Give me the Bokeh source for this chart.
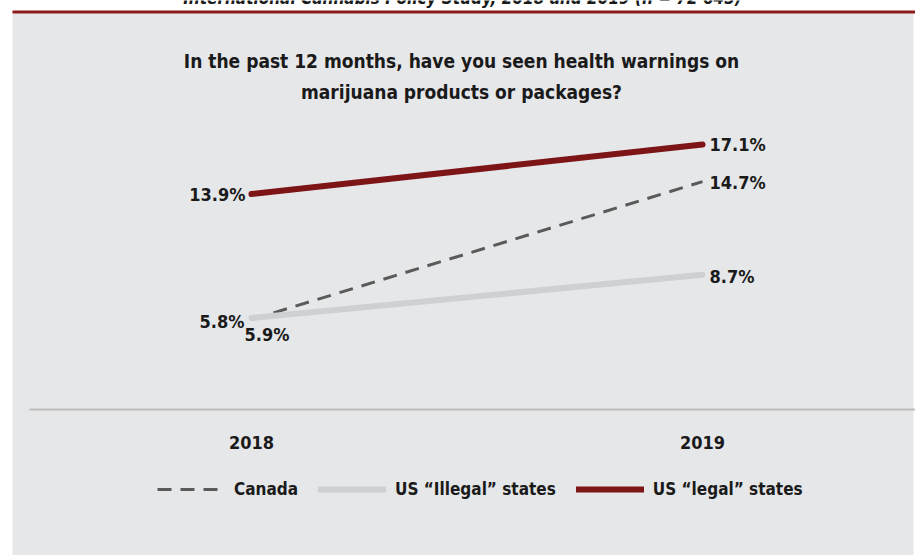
from bokeh.plotting import figure
from bokeh.models import Range1d, Legend, LegendItem
from bokeh.core.properties import value
from bokeh.embed import file_html
from bokeh.resources import INLINE

# ---- data ----
years = [2018, 2019]
canada = [5.8, 14.7]
us_illegal = [5.9, 8.7]
us_legal = [13.9, 17.1]
year_labels = ["2018", "2019"]
series_names = ["Canada", "US \u201cIllegal\u201d states", "US \u201clegal\u201d states"]
title_lines = ["In the past 12 months, have you seen health warnings on",
               "marijuana products or packages?"]
top_caption = "International Cannabis Policy Study, 2018 and 2019 (n = 72 645)"

W, H = 915, 555
FONT = "DejaVu Sans Condensed"

# pixel geometry of the frame (whole canvas)
X0_PX, X1_PX = 251, 702          # where 2018 / 2019 sit
Y0_PX, Y_SCALE = 409, 15.5       # y=0 baseline and px per percentage point

px_per_year = (X1_PX - X0_PX) / (years[1] - years[0])
x_start = years[0] - X0_PX / px_per_year
x_end = years[0] + (W - X0_PX) / px_per_year
y_start = -(H - Y0_PX) / Y_SCALE
y_end = Y0_PX / Y_SCALE

def px_x(px):
    return x_start + px / px_per_year

def px_y(py):
    return (Y0_PX - py) / Y_SCALE

p = figure(width=W, height=H, output_backend="svg", toolbar_location=None,
           x_axis_type=None, y_axis_type=None,
           x_range=Range1d(x_start, x_end), y_range=Range1d(y_start, y_end),
           min_border=0, min_border_left=0, min_border_right=0,
           min_border_top=0, min_border_bottom=0)
p.outline_line_color = None
p.background_fill_color = "white"
p.border_fill_color = "white"
p.grid.visible = False

# panel and top rule (decoration)
p.quad(left=[px_x(12)], right=[px_x(913)], top=[px_y(13)], bottom=[px_y(H + 5)],
       fill_color="#E6E7E9", line_color=None)
p.quad(left=[px_x(12)], right=[px_x(W + 5)], top=[px_y(10)], bottom=[px_y(13)],
       fill_color="#8E1B1B", line_color=None)

# cut-off caption at very top
p.text(x=[px_x(462)], y=[px_y(-3)], text=[top_caption],
       text_font=value(FONT), text_font_size="17px", text_font_style="bold italic",
       text_color="#1a1a1a", text_align="center", text_baseline="alphabetic")

# title
for i, line in enumerate(title_lines):
    p.text(x=[px_x(461)], y=[px_y(60 + 31 * i)], text=[line],
           text_font=value(FONT), text_font_size="19px", text_font_style="bold",
           text_color="#1a1a1a", text_align="center", text_baseline="middle")

# baseline (y = 0)
p.segment(x0=[px_x(29)], x1=[x_end + 1], y0=[0], y1=[0],
          line_color="#BDBDBD", line_width=2)

# series
r_can = p.line(years, canada, line_color="#5A5A5A", line_width=3, line_dash="14 9")
r_ill = p.line(years, us_illegal, line_color="#CFD0D2", line_width=6, line_cap="round")
r_leg = p.line(years, us_legal, line_color="#7D1517", line_width=6, line_cap="round")

lab_style = dict(text_font=value(FONT), text_font_size="18px", text_font_style="bold",
                 text_color="#1a1a1a", text_baseline="middle")

def pct(v):
    return f"{v:.1f}%"

# left labels
p.text(x=[years[0]], y=[us_legal[0]], text=[pct(us_legal[0])], text_align="right",
       x_offset=-6, y_offset=0, **lab_style)
p.text(x=[years[0]], y=[canada[0]], text=[pct(canada[0])], text_align="right",
       x_offset=-7, y_offset=2, **lab_style)
p.text(x=[years[0]], y=[us_illegal[0]], text=[pct(us_illegal[0])], text_align="left",
       x_offset=-7, y_offset=16, **lab_style)
# right labels
for s, dy in ((us_legal, 0), (canada, 1), (us_illegal, 2)):
    p.text(x=[years[1]], y=[s[1]], text=[pct(s[1])], text_align="left",
           x_offset=7, y_offset=dy, **lab_style)

# year labels under the baseline
p.text(x=years, y=[0, 0], text=year_labels, text_align="center", text_baseline="middle",
       y_offset=33, text_font=value(FONT), text_font_size="18px", text_font_style="bold",
       text_color="#1a1a1a")

legend = Legend(items=[LegendItem(label=series_names[0], renderers=[r_can]),
                       LegendItem(label=series_names[1], renderers=[r_ill]),
                       LegendItem(label=series_names[2], renderers=[r_leg])],
                orientation="horizontal", location=(157, 56),
                glyph_width=68, glyph_height=20, label_standoff=9, spacing=20,
                padding=0, margin=0, border_line_color=None,
                background_fill_alpha=0,
                label_text_font=FONT, label_text_font_size="17px",
                label_text_font_style="bold", label_text_color="#1a1a1a")
p.add_layout(legend, "center")

open("out.html", "w").write(file_html(p, INLINE))
